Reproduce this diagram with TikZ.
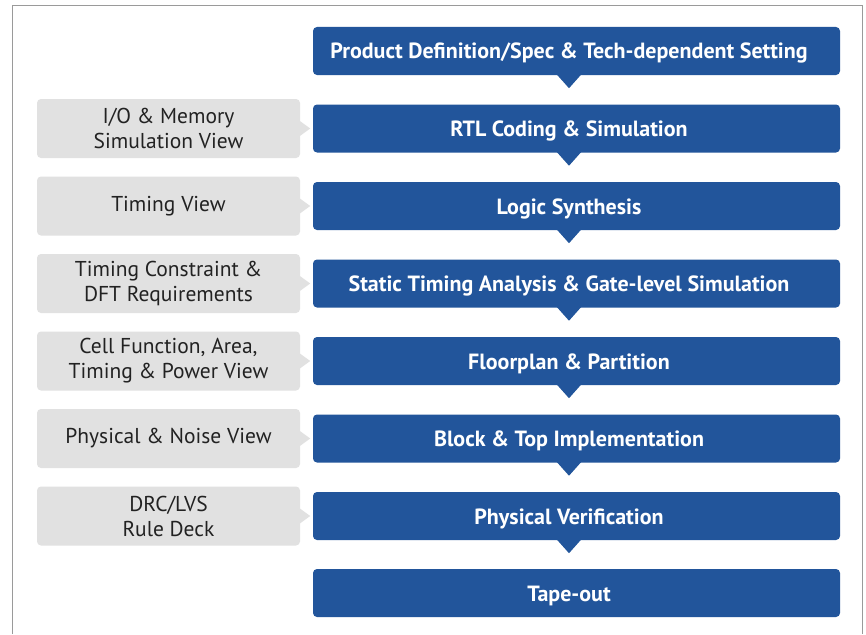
\documentclass[tikz,border=0pt]{standalone}
\usepackage{fontspec}
\setmainfont{PT Sans}
\usetikzlibrary{calc}
\definecolor{flowblue}{HTML}{22559B}
\definecolor{viewgray}{HTML}{E1E1E1}
\definecolor{frameline}{HTML}{9A9A9A}
\definecolor{viewtext}{HTML}{222222}
\tikzset{
  stepbox/.style={fill=flowblue, rounded corners=4pt, minimum width=527pt, minimum height=48pt,
    inner sep=0pt, text=white, font=\fontsize{22}{26}\selectfont\bfseries, anchor=center,
    text height=16pt, text depth=0pt,
    execute at end node={\hspace{15pt}}},
  viewbox/.style={fill=viewgray, rounded corners=4pt, minimum width=263pt, minimum height=59pt,
    inner sep=0pt, text=viewtext, align=center, font=\fontsize{21.5}{25}\selectfont, anchor=center},
  downtip/.style={fill=flowblue},
  righttip/.style={fill=viewgray}
}
\begin{document}
\begin{tikzpicture}[x=1pt,y=-1pt]
\useasboundingbox (0,0) rectangle (866,634);
\fill[white] (0,0) rectangle (866,634);
\draw[frameline, line width=1pt] (12,634) -- (12,6) -- (862,6) -- (862,634);
% blue steps
\node[stepbox] (b1) at (576.5,51) {Product Definition/Spec \& Tech-dependent Setting};
\node[stepbox] (b2) at (576.5,128.5) {RTL Coding \& Simulation};
\node[stepbox] (b3) at (576.5,206) {Logic Synthesis};
\node[stepbox] (b4) at (576.5,283.5) {Static Timing Analysis \& Gate-level Simulation};
\node[stepbox] (b5) at (576.5,361) {Floorplan \& Partition};
\node[stepbox] (b6) at (576.5,438.5) {Block \& Top Implementation};
\node[stepbox] (b7) at (576.5,516) {Physical Verification};
\node[stepbox] (b8) at (576.5,593) {Tape-out};
% downward tips
\foreach \n in {b1,b2,b3,b4,b5,b6,b7}{
  \fill[downtip] ($(\n.south)+(-20,-1)$) -- ($(\n.south)+(5,-1)$) -- ($(\n.south)+(-7.5,13)$) -- cycle;
}
% gray views
\node[viewbox] (g2) at (168.5,128.5) {I/O \& Memory\\Simulation View};
\node[viewbox] (g3) at (168.5,206) {Timing View};
\node[viewbox] (g4) at (168.5,283.5) {Timing Constraint \&\\DFT Requirements};
\node[viewbox] (g5) at (168.5,361) {Cell Function, Area,\\Timing \& Power View};
\node[viewbox] (g6) at (168.5,438.5) {Physical \& Noise View};
\node[viewbox] (g7) at (168.5,516) {DRC/LVS\\Rule Deck};
\foreach \n in {g2,g3,g4,g5,g6,g7}{
  \fill[righttip] ($(\n.east)+(-1,-8)$) -- ($(\n.east)+(10,0)$) -- ($(\n.east)+(-1,8)$) -- cycle;
}
\end{tikzpicture}
\end{document}
